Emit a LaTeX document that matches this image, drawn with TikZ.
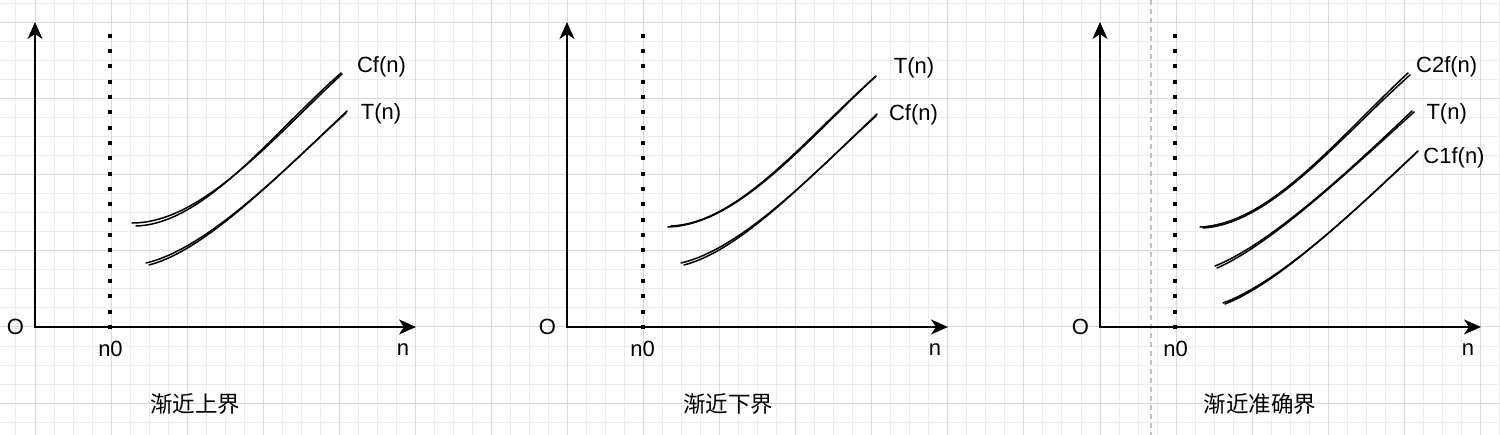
\documentclass[tikz,border=0pt]{standalone}
\usepackage{fontspec}
\setmainfont{Liberation Sans}
\newfontfamily\cjk{Noto Sans CJK SC}
\usetikzlibrary{arrows.meta}
\definecolor{gridminor}{RGB}{236,236,236}
\definecolor{gridmajor}{RGB}{216,216,216}
\definecolor{sepline}{RGB}{192,192,192}
\tikzset{
  axis/.style={line width=2pt,-{Stealth[length=17pt,width=15pt,inset=5pt]}},
  nzero/.style={line width=4pt,dash pattern=on 4pt off 11.33pt},
  curve/.style={line width=1.5pt,line cap=round},
  lbl/.style={inner sep=0pt,font=\fontsize{22}{26}\selectfont},
  cnlbl/.style={inner sep=0pt,font=\cjk\fontsize{22.5}{27}\selectfont},
  sepdash/.style={line width=1.3pt,color=sepline,dash pattern=on 5pt off 4pt}
}
\begin{document}
\begin{tikzpicture}[x=1pt,y=-1pt]
\useasboundingbox (0,0) rectangle (1500,435);
\fill[white] (0,0) rectangle (1500,435);
% grid
\foreach \i in {-1,...,77}{
  \draw[gridminor,line width=1pt] ({35+19.018*\i},0) -- ({35+19.018*\i},435);
}
\foreach \j in {-17,...,5}{
  \draw[gridminor,line width=1pt] (0,{327+19.018*\j}) -- (1500,{327+19.018*\j});
}
\foreach \i in {0,4,...,76}{
  \draw[gridmajor,line width=1pt] ({35+19.018*\i},0) -- ({35+19.018*\i},435);
}
\foreach \j in {-16,-12,...,4}{
  \draw[gridmajor,line width=1pt] (0,{327+19.018*\j}) -- (1500,{327+19.018*\j});
}
% separator
\coordinate (septop) at (1151,0);
\coordinate (sepbot) at (1151,435);
\draw[sepdash] (septop) -- (sepbot);

% ---------- panel 1 ----------
\begin{scope}
\coordinate (a1o) at (35,328);
\coordinate (a1y) at (35,22);
\coordinate (a1x0) at (34,327);
\coordinate (a1x) at (416,327);
\draw[axis] (a1o) -- (a1y);
\draw[axis] (a1x0) -- (a1x);
\coordinate (d1b) at (110,329);
\coordinate (d1t) at (110,33);
\draw[nzero] (d1b) -- (d1t);
\draw[curve] (132,223) .. controls +(70,0) and +(-70,65) .. (342,74);
\draw[curve] (136,226) .. controls +(68,-2) and +(-71,63) .. (341,73);
\draw[curve] (146,263) .. controls +(60,-14) and +(-65,62) .. (347,111);
\draw[curve] (149,265) .. controls +(58,-15) and +(-66,60) .. (346,113);
\node[lbl] (p1c) at (381.5,67) {Cf(n)};
\node[lbl] (p1t) at (381,114) {T(n)};
\node[lbl] (p1O) at (15.5,327) {O};
\node[lbl] (p1n0) at (110.5,348.5) {n0};
\node[lbl] (p1n) at (403,349.5) {n};
\node[cnlbl] (p1cap) at (195,404) {渐近上界};
\end{scope}

% ---------- panel 2 ----------
\begin{scope}[xshift=532pt]
\coordinate (a2o) at (35,328);
\coordinate (a2y) at (35,22);
\coordinate (a2x0) at (34,327);
\coordinate (a2x) at (416,327);
\draw[axis] (a2o) -- (a2y);
\draw[axis] (a2x0) -- (a2x);
\coordinate (d2b) at (111,329);
\coordinate (d2t) at (111,33);
\draw[nzero] (d2b) -- (d2t);
\draw[curve] (136,227) .. controls +(70,-2) and +(-70,65) .. (344,76);
\draw[curve] (139,226) .. controls +(68,-3) and +(-71,63) .. (343,77);
\draw[curve] (149,263) .. controls +(60,-14) and +(-65,62) .. (345,114);
\draw[curve] (152,265) .. controls +(58,-15) and +(-66,60) .. (344,116);
\node[lbl] (p2t) at (382,68) {T(n)};
\node[lbl] (p2c) at (381.5,115) {Cf(n)};
\node[lbl] (p2O) at (15.5,327) {O};
\node[lbl] (p2n0) at (110.5,348.5) {n0};
\node[lbl] (p2n) at (403,349.5) {n};
\node[cnlbl] (p2cap) at (196,404) {渐近下界};
\end{scope}

% ---------- panel 3 ----------
\begin{scope}[xshift=1065pt]
\coordinate (a3o) at (35,328);
\coordinate (a3y) at (35,22);
\coordinate (a3x0) at (34,327);
\coordinate (a3x) at (416,327);
\draw[axis] (a3o) -- (a3y);
\draw[axis] (a3x0) -- (a3x);
\coordinate (d3b) at (110,329);
\coordinate (d3t) at (110,33);
\draw[nzero] (d3b) -- (d3t);
\draw[curve] (135,227) .. controls +(70,-3) and +(-70,65) .. (343,73);
\draw[curve] (138,228) .. controls +(68,-4) and +(-71,63) .. (345,75);
\draw[curve] (150,266) .. controls +(55,-22) and +(-65,62) .. (347,111);
\draw[curve] (152,268) .. controls +(53,-23) and +(-66,60) .. (349,112);
\draw[curve] (158,303) .. controls +(55,-20) and +(-65,62) .. (353,151);
\draw[curve] (160,304) .. controls +(54,-21) and +(-65,61) .. (352,152);
\node[lbl] (p3c2) at (381.7,67) {C2f(n)};
\node[lbl] (p3t) at (381.7,114) {T(n)};
\node[lbl] (p3c1) at (389,158) {C1f(n)};
\node[lbl] (p3O) at (15.5,327) {O};
\node[lbl] (p3n0) at (110.5,348.5) {n0};
\node[lbl] (p3n) at (403,349.5) {n};
\node[cnlbl] (p3cap) at (195,404) {渐近准确界};
\end{scope}
\end{tikzpicture}
\end{document}
